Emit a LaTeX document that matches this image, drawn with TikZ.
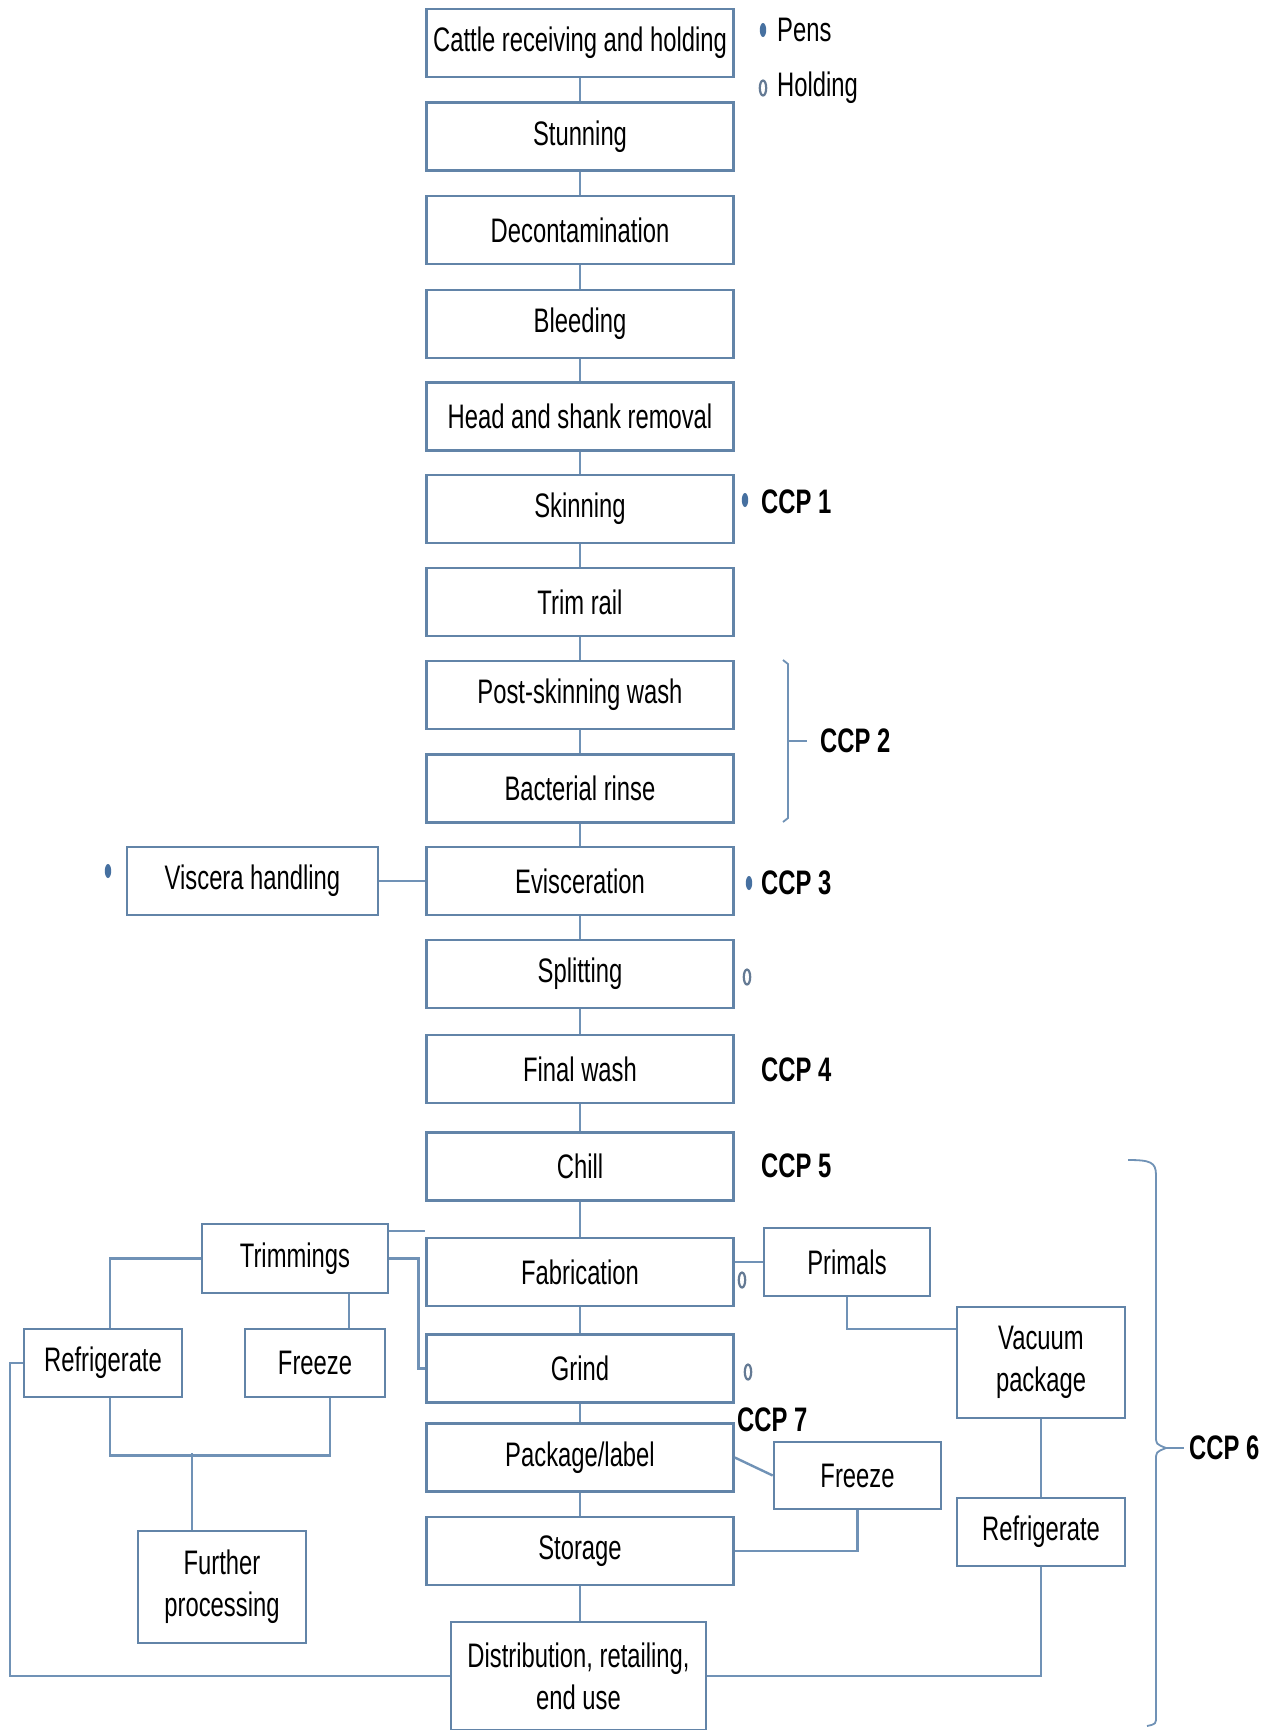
\documentclass[tikz,border=0pt]{standalone}
\usepackage{fontspec}
\setmainfont{Liberation Sans}
\newfontfamily\cf[FakeStretch=0.7]{Liberation Sans}
\usetikzlibrary{calc}
\definecolor{boxc}{RGB}{98,132,168}
\definecolor{linec}{RGB}{112,146,182}
\definecolor{dotc}{RGB}{70,112,160}
\definecolor{odotc}{RGB}{100,122,148}
\begin{document}
\begin{tikzpicture}[x=1pt,y=-1pt,
  every node/.style={font=\cf\fontsize{34}{42}\selectfont},
  pbox/.style={draw=boxc,line width=2.6pt,fill=white,inner sep=0pt,align=center,minimum width=307pt,minimum height=68pt},
  sbox/.style={draw=boxc,line width=2.6pt,fill=white,inner sep=0pt,align=center,minimum height=68pt},
  conn/.style={draw=linec,line width=2.4pt},
  lbl/.style={anchor=west,inner sep=0pt,font=\cf\bfseries\fontsize{34}{42}\selectfont},
  plain/.style={anchor=west,inner sep=0pt},
  fdot/.style={fill=dotc},
  odot/.style={draw=odotc,line width=2.2pt}
]
\useasboundingbox (0,0) rectangle (1273,1730);
\fill[white] (0,0) rectangle (1273,1730);

% main column
\node[pbox] (n0) at (580,43) {Cattle receiving and holding};
\node[pbox] (n1) at (580,136.5) {Stunning};
\node[pbox] (n2) at (580,230) {Decontamination};
\node[pbox] (n3) at (580,324) {Bleeding};
\node[pbox] (n4) at (580,416.5) {Head and shank removal};
\node[pbox] (n5) at (580,509) {Skinning};
\node[pbox] (n6) at (580,602) {Trim rail};
\node[pbox] (n7) at (580,695) {Post-skinning wash};
\node[pbox] (n8) at (580,788.5) {Bacterial rinse};
\node[pbox] (n9) at (580,881) {Evisceration};
\node[pbox] (n10) at (580,974) {Splitting};
\node[pbox] (n11) at (580,1069) {Final wash};
\node[pbox] (n12) at (580,1166.5) {Chill};
\node[pbox] (n13) at (580,1272) {Fabrication};
\node[pbox] (n14) at (580,1368.5) {Grind};
\node[pbox] (n15) at (580,1457.5) {Package/label};
\node[pbox] (n16) at (580,1551) {Storage};
\node[sbox,minimum width=255pt,minimum height=108pt] (dist) at (578.5,1676) {Distribution, retailing,\\end use};

% side boxes
\node[sbox,minimum width=251pt] (visc) at (252.5,881) {Viscera handling};
\node[sbox,minimum width=186pt,minimum height=69pt] (trim) at (295,1258.5) {Trimmings};
\node[sbox,minimum width=166pt] (prim) at (847,1262) {Primals};
\node[sbox,minimum width=158pt] (refL) at (103,1363) {Refrigerate};
\node[sbox,minimum width=140pt] (frzL) at (315,1363) {Freeze};
\node[sbox,minimum width=168pt,minimum height=112pt] (fur) at (222,1587) {Further\\processing};
\node[sbox,minimum width=168pt,minimum height=111pt] (vac) at (1041,1362.5) {Vacuum\\package};
\node[sbox,minimum width=168pt] (refR) at (1041,1532) {Refrigerate};
\node[sbox,minimum width=167pt,minimum height=67pt] (frzR) at (857.5,1475.5) {Freeze};

% main connectors
\foreach \a/\b in {n0/n1,n1/n2,n2/n3,n3/n4,n4/n5,n5/n6,n6/n7,n7/n8,n8/n9,n9/n10,n10/n11,n11/n12,n12/n13,n13/n14,n14/n15,n15/n16}
  \draw[conn] (\a) -- (\b);
\draw[conn] (n16.south) -- (n16.south |- dist.north);

% side connectors
\draw[conn] (visc) -- (n9);
\draw[conn] (trim.east |- 0,1231) -- (n13.west |- 0,1231);
\draw[conn] (trim.east) -- ++(29,0) |- (n14.west);
\draw[conn] (trim.west) -| ([xshift=7pt]refL.north);
\draw[conn] ([xshift=54pt]trim.south) -- ([xshift=34pt]frzL.north);
\draw[conn] ([xshift=7pt]refL.south) -- ++(0,57) -| ([xshift=15pt]frzL.south);
\draw[conn] ([xshift=-30pt]fur.north) -- ++(0,-77);
\draw[conn] (refL.west) -- ++(-13,0) |- (dist.west);
\draw[conn] (n13.east |- prim.west) -- (prim.west);
\draw[conn] (prim.south) |- ([yshift=33.5pt]vac.west);
\draw[conn] (vac) -- (refR);
\draw[conn] (refR.south) |- (dist.east);
\draw[conn] (n15.east) -- (frzR.west);
\draw[conn] (frzR.south) |- (n16.east);

% legend
\fill[fdot] (763,30) ellipse (3.2 and 7);
\node[plain] (pens) at (777,30) {Pens};
\draw[odot] (763,88) ellipse (3.2 and 7.5);
\node[plain] (hold) at (777,88) {Holding};

% markers
\fill[fdot] (745,500) ellipse (3.2 and 7);
\fill[fdot] (749,883) ellipse (3.2 and 7);
\fill[fdot] (108,871) ellipse (3.2 and 7);
\draw[odot] (747,977) ellipse (3.2 and 7.5);
\draw[odot] (742,1280) ellipse (3.2 and 7.5);
\draw[odot] (748,1372) ellipse (3.2 and 7.5);

% CCP labels
\node[lbl] (c1) at (761,502) {CCP 1};
\node[lbl] (c2) at (820,741) {CCP 2};
\node[lbl] (c3) at (761,883) {CCP 3};
\node[lbl] (c4) at (761,1070) {CCP 4};
\node[lbl] (c5) at (761,1166) {CCP 5};
\node[lbl] (c7) at (737,1420) {CCP 7};
\node[lbl] (c6) at (1189,1448) {CCP 6};

% brackets
\draw[conn,line width=1.8pt] (783,660) -- (788,664) -- (788,818) -- (783,822);
\draw[conn,line width=1.8pt] (788,741) -- (807,741);
\draw[conn,line width=1.8pt] (1128,1160) .. controls (1150,1160) and (1156,1162) .. (1156,1175) -- (1156,1436) .. controls (1156,1444) .. (1166,1448) .. controls (1156,1452) .. (1156,1460) -- (1156,1716) .. controls (1156,1724) .. (1147,1726);
\draw[conn,line width=1.8pt] (1166,1448) -- (1184,1448);
\end{tikzpicture}
\end{document}
